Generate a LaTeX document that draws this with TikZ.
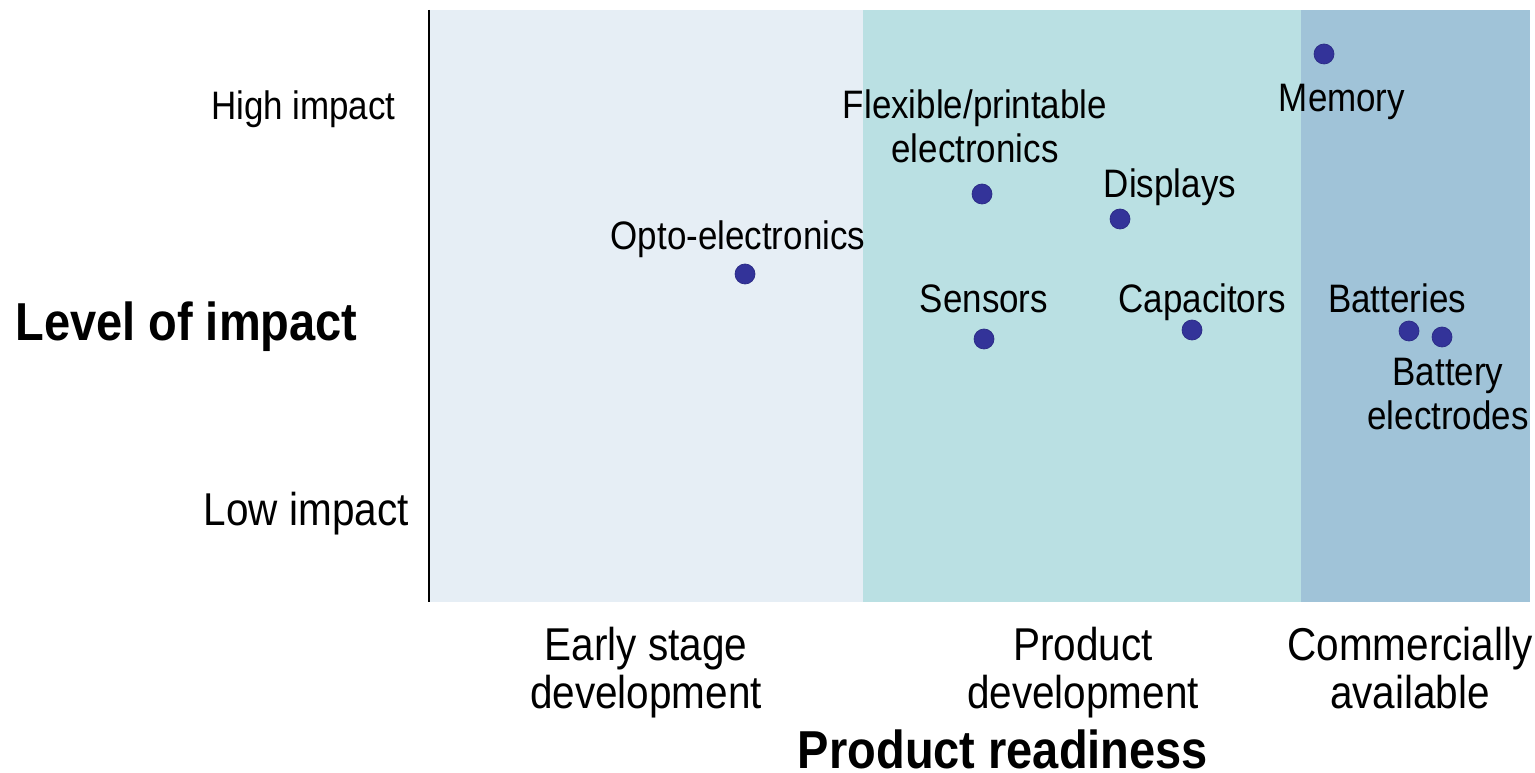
\documentclass[tikz,border=0pt]{standalone}
\usepackage{fontspec}
\setmainfont{Liberation Sans}[FakeStretch=0.88]
\newcommand\lblfont{\fontsize{22.6}{25.6}\selectfont}
\newcommand\axfont{\fontsize{26.2}{27.3}\selectfont}
\newcommand\ttlfont{\bfseries\fontsize{30.4}{34}\selectfont}
\definecolor{bandA}{HTML}{E6EEF5}
\definecolor{bandB}{HTML}{BAE0E3}
\definecolor{bandC}{HTML}{A0C3D8}
\definecolor{dotfill}{HTML}{333399}
\definecolor{dotline}{HTML}{2A2A85}
\begin{document}
\begin{tikzpicture}[x=0.02cm,y=-0.02cm,
  dot/.style={circle,fill=dotfill,draw=dotline,line width=0.4pt,minimum size=0.4cm,inner sep=0pt},
  lbl/.style={font=\lblfont,inner sep=0pt,align=center,anchor=base},
  axlbl/.style={font=\axfont,inner sep=0pt,align=center,anchor=base},
  ttl/.style={font=\ttlfont,inner sep=0pt,anchor=base}]
\useasboundingbox (0,0) rectangle (1535,773);
% bands
\fill[bandA] (430,10) rectangle (863,602);
\fill[bandB] (863,10) rectangle (1301,602);
\fill[bandC] (1301,10) rectangle (1530,602);
% axis
\coordinate (axtop) at (429,10);
\coordinate (axbot) at (429,602);
\draw[line width=0.9pt] (axtop) -- (axbot);
% dots
\node[dot] (mem) at (1324,54) {};
\node[dot] (flex) at (982,194) {};
\node[dot] (disp) at (1120,219) {};
\node[dot] (opto) at (745,274) {};
\node[dot] (sens) at (984,339) {};
\node[dot] (cap) at (1192,330) {};
\node[dot] (batt) at (1409,331) {};
\node[dot] (bele) at (1442,337) {};
% dot labels
\node[lbl] (memL) at (1342,112) {Memory};
\node[lbl] (flexL) at (975,163) {Flexible/printable\\electronics};
\node[lbl] (dispL) at (1170,198) {Displays};
\node[lbl] (optoL) at (738,250) {Opto-electronics};
\node[lbl] (sensL) at (984,313) {Sensors};
\node[lbl] (capL) at (1202,313) {Capacitors};
\node[lbl] (battL) at (1397,313) {Batteries};
\node[lbl] (beleL) at (1448,430) {Battery\\electrodes};
% y axis labels
\node[lbl,anchor=base east] (hi) at (396,120) {High impact};
\node[axlbl,anchor=base east] (lo) at (409,525) {Low impact};
\node[ttl,anchor=base west] (yt) at (15,341) {Level of impact};
% x axis labels
\node[axlbl] (early) at (646,708) {Early stage\\development};
\node[axlbl] (prod) at (1083,708) {Product\\development};
\node[axlbl] (comm) at (1410,708) {Commercially\\available};
\node[ttl] (xt) at (1003,768) {Product readiness};
\end{tikzpicture}
\end{document}
